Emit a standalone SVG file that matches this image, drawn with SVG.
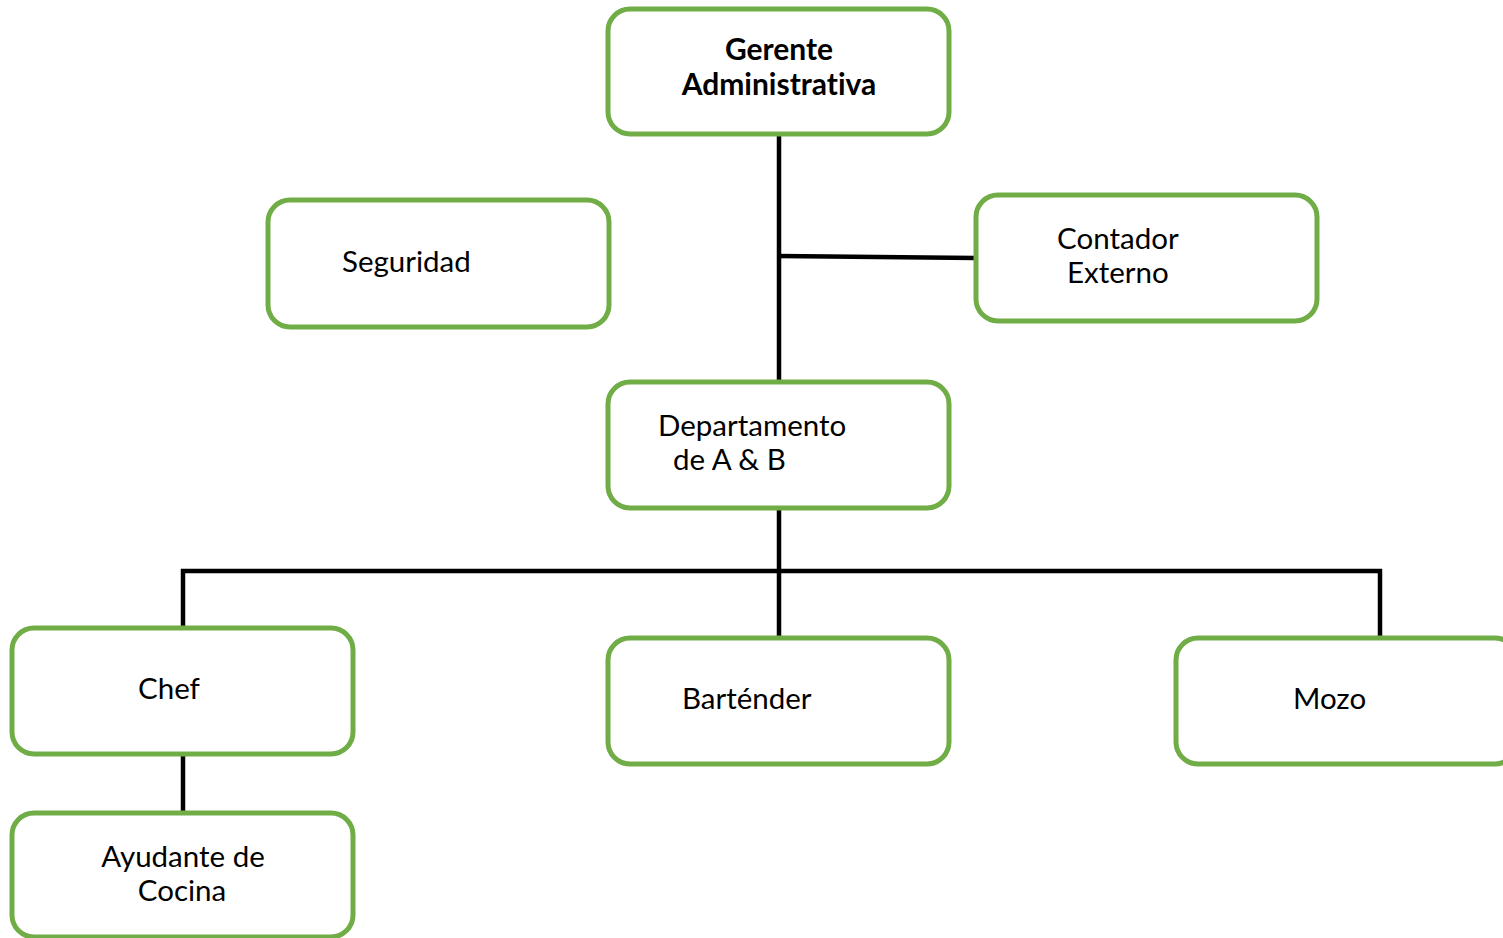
<svg xmlns="http://www.w3.org/2000/svg" width="1503" height="938" viewBox="0 0 1503 938">
<style>
.box{fill:#fff;stroke:#70AD47;stroke-width:5}
.ln{stroke:#000;stroke-width:4.5;fill:none}
text{font-family:Lato,"Open Sans","Liberation Sans",sans-serif;font-size:29.5px;fill:#000;font-variant-ligatures:none}
.b{font-weight:bold;font-size:30px}
</style>
<rect width="1503" height="938" fill="#fff"/>
<g id="connectors">
<line class="ln" x1="779" y1="134" x2="779" y2="382"/>
<line class="ln" x1="779" y1="256" x2="976" y2="258"/>
<line class="ln" x1="779" y1="508" x2="779" y2="638"/>
<line class="ln" x1="181" y1="571" x2="1382" y2="571"/>
<line class="ln" x1="183" y1="569" x2="183" y2="628"/>
<line class="ln" x1="1380" y1="569" x2="1380" y2="638"/>
<line class="ln" x1="183" y1="754" x2="183" y2="813"/>
</g>
<g id="gerente">
<rect class="box" x="608" y="9" width="341" height="125" rx="22"/>
<text class="b" x="779" y="60" text-anchor="middle">Gerente</text>
<text class="b" x="779" y="95" text-anchor="middle">Administrativa</text>
</g>
<g id="seguridad">
<rect class="box" x="268" y="200" width="341" height="127" rx="22"/>
<text x="342" y="272">Seguridad</text>
</g>
<g id="contador">
<rect class="box" x="976" y="195" width="341" height="126" rx="22"/>
<text x="1057" y="249">Contador</text>
<text x="1067" y="283">Externo</text>
</g>
<g id="departamento">
<rect class="box" x="608" y="382" width="341" height="126" rx="22"/>
<text x="658" y="436">Departamento</text>
<text x="673" y="470">de A &amp; B</text>
</g>
<g id="chef">
<rect class="box" x="12" y="628" width="341" height="126" rx="22"/>
<text x="138" y="699">Chef</text>
</g>
<g id="bartender">
<rect class="box" x="608" y="638" width="341" height="126" rx="22"/>
<text x="682" y="709">Barténder</text>
</g>
<g id="mozo">
<rect class="box" x="1176" y="638" width="341" height="126" rx="22"/>
<text x="1293" y="709">Mozo</text>
</g>
<g id="ayudante">
<rect class="box" x="12" y="813" width="341" height="124" rx="22"/>
<text x="183" y="867" text-anchor="middle">Ayudante de</text>
<text x="182" y="901" text-anchor="middle">Cocina</text>
</g>
</svg>
